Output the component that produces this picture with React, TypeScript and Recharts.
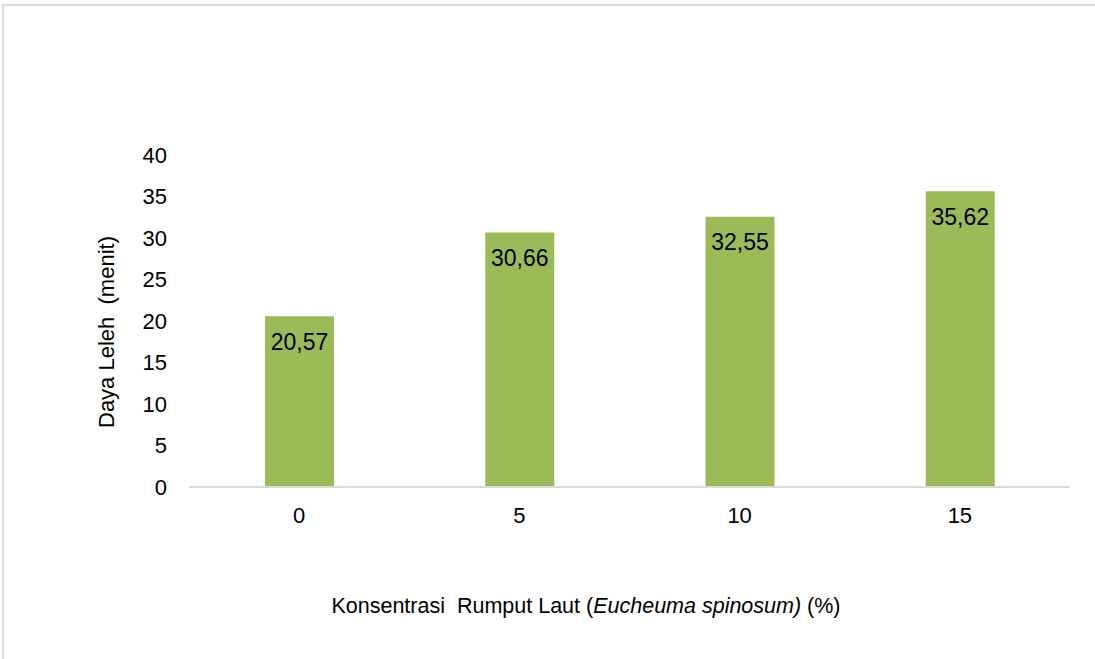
import { BarChart, Bar, XAxis, YAxis, LabelList, Label } from "recharts";

// konsentrasi rumput laut (%) dan daya leleh (menit)
const konsentrasi = ["0", "5", "10", "15"];
const dayaLeleh = [20.57, 30.66, 32.55, 35.62];
const yTicks = [0, 5, 10, 15, 20, 25, 30, 35, 40];

const data = konsentrasi.map((k, i) => ({ konsentrasi: k, dayaLeleh: dayaLeleh[i] }));

const FONT = "'Liberation Sans', Arial, sans-serif";

const XTick = ({ x, y, payload }: any) => (
  <text x={x} y={y} dy="0.71em" textAnchor="middle" fontSize={22} fill="#000" fontFamily={FONT}>
    {payload.value}
  </text>
);

const YTick = ({ x, y, payload }: any) => (
  <text x={x} y={y} dy="0.36em" textAnchor="end" fontSize={22} fill="#000" fontFamily={FONT}>
    {payload.value}
  </text>
);

export default function App() {
  return (
    <div
      style={{
        position: "absolute",
        left: 0,
        top: 0,
        width: 1095,
        height: 659,
        background: "#fff",
        fontFamily: FONT,
      }}
    >
      <div
        style={{
          position: "absolute",
          left: 2,
          top: 4,
          right: 0,
          bottom: 0,
          borderTop: "2px solid #d9d9d9",
          borderLeft: "2px solid #d9d9d9",
        }}
      />
      <BarChart
        width={1095}
        height={659}
        data={data}
        margin={{ top: 155, right: 25, bottom: 0, left: 0 }}
        style={{ position: "absolute", left: 0, top: 0 }}
      >
        <XAxis
          dataKey="konsentrasi"
          height={172}
          axisLine={{ stroke: "#d9d9d9", strokeWidth: 2 }}
          tickLine={false}
          tickSize={0}
          tickMargin={20}
          tick={<XTick />}
        >
          <Label
            content={() => (
              <text
                x={586}
                y={613}
                textAnchor="middle"
                fontSize={21.5}
                fill="#000"
                fontFamily={FONT}
                style={{ whiteSpace: "pre" }}
              >
                <tspan>{"Konsentrasi  Rumput Laut ("}</tspan>
                <tspan fontStyle="italic">Eucheuma spinosum)</tspan>
                <tspan>{" (%)"}</tspan>
              </text>
            )}
          />
        </XAxis>
        <YAxis
          width={189}
          domain={[0, 40]}
          ticks={yTicks}
          interval={0}
          axisLine={false}
          tickLine={false}
          tickSize={0}
          tickMargin={22}
          tick={<YTick />}
        >
          <Label
            content={() => (
              <text
                x={114}
                y={332}
                textAnchor="middle"
                fontSize={22}
                fill="#000"
                fontFamily={FONT}
                transform="rotate(-90 114 332)"
                style={{ whiteSpace: "pre" }}
              >
                {"Daya Leleh  (menit)"}
              </text>
            )}
          />
        </YAxis>
        <Bar dataKey="dayaLeleh" fill="#9bbb59" barSize={69} isAnimationActive={false}>
          <LabelList
            dataKey="dayaLeleh"
            position="insideTop"
            offset={17}
            fill="#000"
            fontSize={23}
            fontFamily={FONT}
            formatter={(v: number) => v.toFixed(2).replace(".", ",")}
          />
        </Bar>
      </BarChart>
    </div>
  );
}
